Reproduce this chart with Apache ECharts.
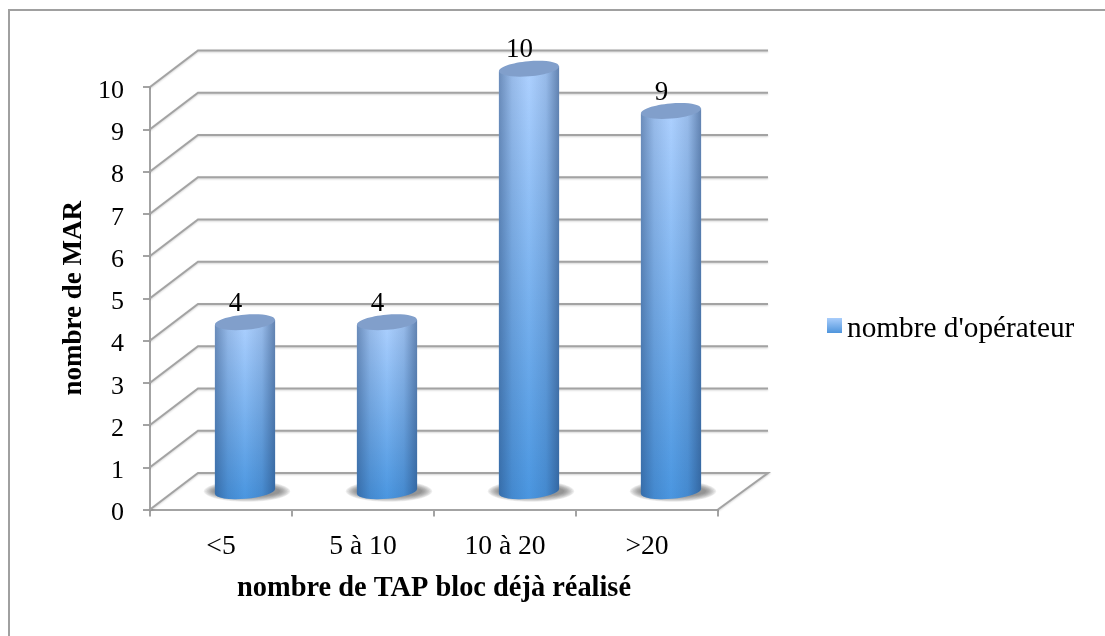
<!DOCTYPE html>
<html>
<head>
<meta charset="utf-8">
<title>nombre de TAP bloc déjà réalisé</title>
<style>html,body{margin:0;padding:0;background:#fff}#chart{width:1105px;height:636px}</style>
<script src="https://cdn.jsdelivr.net/npm/echarts@6/dist/echarts.min.js"></script>
</head>
<body>
<div id="chart"></div>
<script>
const categories = ['<5', '5 à 10', '10 à 20', '>20'];
const operators = [4, 4, 10, 9];
const yTicks = [0, 1, 2, 3, 4, 5, 6, 7, 8, 9, 10];
const seriesName = "nombre d'opérateur";
const xTitle = 'nombre de TAP bloc déjà réalisé';
const yTitle = 'nombre de MAR';

// Oblique projection of the 3D box and the cylinder proportions
const DEPTH_X = 48, DEPTH_Y = 36.5;
const TILT = -5;
const SERIF = '"Liberation Serif", serif';
const GREY = '#a3a3a3';
const SHADOW_STEPS = 8;

const vGrad = (c0, c1) => new echarts.graphic.LinearGradient(0, 0, 0, 1, [
  { offset: 0, color: c0 }, { offset: 1, color: c1 }
]);

// Back wall, side wall and floor lines for one tick value
function renderWall(params, api) {
  const v = api.value(1);
  const y = api.coord([0, v])[1];
  const x0 = params.coordSys.x, x1 = x0 + params.coordSys.width;
  const pts = [[x0, y], [x0 + DEPTH_X, y - DEPTH_Y], [x1 + DEPTH_X + 2, y - DEPTH_Y]];
  if (v === 0) pts.push([x1, y]);
  return {
    type: 'polyline',
    shape: { points: pts },
    style: {
      fill: null, stroke: GREY, lineWidth: 2,
      shadowColor: 'rgba(0,0,0,0.18)', shadowBlur: 2, shadowOffsetY: 1
    }
  };
}

// Soft floor shadow built from nested translucent ellipses
function floorShadow(cx, cy, rx) {
  const rings = [];
  for (let k = 0; k < SHADOW_STEPS; k++) {
    const t = k / (SHADOW_STEPS - 1);
    rings.push({
      type: 'ellipse',
      shape: { cx: cx + 2, cy: cy, rx: rx + 13 - 10 * t, ry: 10.5 - 5 * t },
      style: { fill: 'rgba(85,85,85,0.11)' }
    });
  }
  return rings;
}

// One cylinder: floor shadow, shaded body, top cap, value label
function renderCylinder(params, api) {
  const top = api.coord([api.value(0), api.value(1)]);
  const base = api.coord([api.value(0), 0]);
  const band = api.size([1, 0])[0];
  const rx = band * 0.212, ry = 7.5;
  const cx = top[0] + DEPTH_X / 2;
  const yTop = top[1] - DEPTH_Y / 2, yBase = base[1] - DEPTH_Y / 2;
  const dy = rx * Math.sin(-TILT * Math.PI / 180);

  const bodyPath =
    `M${cx - rx} ${yTop + dy} L${cx - rx} ${yBase + dy} ` +
    `A${rx} ${ry} ${TILT} 0 0 ${cx + rx} ${yBase - dy} ` +
    `L${cx + rx} ${yTop - dy} Z`;

  return {
    type: 'group',
    children: floorShadow(cx, yBase, rx).concat([
      {
        type: 'path',
        shape: { pathData: bodyPath },
        style: { fill: vGrad('#aed1ff', '#4a96e0') }
      },
      {
        type: 'path',
        shape: { pathData: bodyPath },
        style: {
          fill: new echarts.graphic.LinearGradient(0, 0, 1, 0, [
            { offset: 0, color: 'rgba(30,60,105,0.46)' },
            { offset: 0.22, color: 'rgba(30,60,105,0.15)' },
            { offset: 0.5, color: 'rgba(30,60,105,0)' },
            { offset: 0.78, color: 'rgba(30,60,105,0.15)' },
            { offset: 1, color: 'rgba(30,60,105,0.52)' }
          ])
        }
      },
      {
        type: 'ellipse',
        shape: { cx: cx, cy: yTop, rx: rx, ry: ry },
        rotation: -TILT * Math.PI / 180,
        originX: cx, originY: yTop,
        style: { fill: '#819fcb' }
      },
      {
        type: 'text',
        x: cx - 9.5,
        y: yTop - 18.5,
        style: {
          text: String(api.value(1)),
          font: '27px ' + SERIF,
          fill: '#000',
          align: 'center',
          verticalAlign: 'middle'
        }
      }
    ])
  };
}

const chart = echarts.init(document.getElementById('chart'), null, { renderer: 'canvas' });
chart.setOption({
  animation: false,
  backgroundColor: '#fff',
  graphic: [
    { type: 'polyline', silent: true, z: 0,
      shape: { points: [[9, 636], [9, 10], [1105, 10]] },
      style: { fill: null, stroke: '#a0a0a0', lineWidth: 2 } }
  ],
  grid: { left: 150, top: 87, width: 568, height: 422.5 },
  xAxis: {
    type: 'category',
    data: categories,
    name: xTitle,
    nameLocation: 'middle',
    nameGap: 65,
    nameTextStyle: { fontFamily: SERIF, fontWeight: 'bold', fontSize: 28.4, color: '#000' },
    axisLine: { lineStyle: { color: GREY, width: 2 } },
    axisTick: { show: true, alignWithLabel: false, length: 7, lineStyle: { color: GREY, width: 2 } },
    axisLabel: { fontFamily: SERIF, fontSize: 27.6, color: '#000', margin: 23, interval: 0 },
    splitLine: { show: false }
  },
  yAxis: {
    type: 'value',
    min: 0,
    max: 10,
    interval: 1,
    name: yTitle,
    nameLocation: 'middle',
    nameGap: 61,
    nameTextStyle: { fontFamily: SERIF, fontWeight: 'bold', fontSize: 27, color: '#000' },
    axisLine: { show: true, lineStyle: { color: GREY, width: 2 } },
    axisTick: { show: true, length: 7, lineStyle: { color: GREY, width: 2 } },
    axisLabel: {
      margin: 26,
      formatter: '{t|{value}}',
      rich: { t: { fontFamily: SERIF, fontSize: 26, color: '#000', padding: [8, 0, 0, 0] } }
    },
    splitLine: { show: false }
  },
  legend: {
    data: [seriesName],
    left: 827,
    top: 315,
    padding: 0,
    itemWidth: 15,
    itemHeight: 15,
    icon: 'rect',
    formatter: '{t|{name}}',
    textStyle: {
      rich: { t: { fontFamily: SERIF, fontSize: 29.3, color: '#000', padding: [8, 0, 0, 0] } }
    }
  },
  series: [
    {
      type: 'custom',
      name: 'walls',
      silent: true,
      z: 1,
      clip: false,
      encode: { x: 0, y: 1 },
      renderItem: renderWall,
      data: yTicks.map(v => [0, v])
    },
    {
      type: 'custom',
      name: seriesName,
      z: 3,
      clip: false,
      encode: { x: 0, y: 1 },
      itemStyle: { color: vGrad('#a9cdfb', '#4f95dc') },
      renderItem: renderCylinder,
      data: categories.map((c, i) => [i, operators[i]])
    }
  ]
});
</script>
</body>
</html>
